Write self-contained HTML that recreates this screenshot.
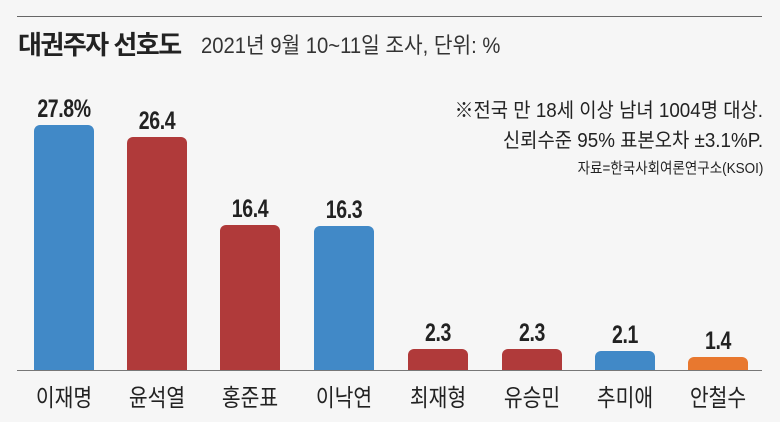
<!DOCTYPE html>
<html><head><meta charset="utf-8"><style>
body{margin:0;background:#f6f6f6;}
#c{position:relative;width:780px;height:422px;background:#f6f6f6;font-family:"Liberation Sans","Noto Sans CJK KR",sans-serif;color:#222;overflow:hidden}
.t{position:absolute;white-space:nowrap}
.bar{position:absolute;width:60px;border-radius:6px 6px 0 0}
.v{position:absolute;width:100px;text-align:center;font-weight:bold;font-size:25px;transform:scaleX(0.78);letter-spacing:-0.5px}
.n{position:absolute;width:100px;text-align:center;font-size:24px;top:378px;transform:scaleX(0.85)}
</style></head><body><div id="c">
<div style="position:absolute;left:17px;top:16px;width:745px;height:1px;background:#666"></div>
<div class="t" style="left:18px;top:25px;font-size:26px;font-weight:bold;letter-spacing:-1.5px">대권주자 선호도</div>
<div class="t" style="left:201px;top:28px;font-size:22px;color:#333;transform:scaleX(0.92);transform-origin:0 0">2021년 9월 10~11일 조사, 단위: %</div>
<div class="t" style="right:17px;top:96px;font-size:20px;text-align:right;line-height:30px;transform:scaleX(0.94);transform-origin:100% 0">※전국 만 18세 이상 남녀 1004명 대상.<br>신뢰수준 95% 표본오차 ±3.1%P.</div>
<div class="t" style="right:17px;top:157px;font-size:15px;transform:scaleX(0.9);transform-origin:100% 0">자료=한국사회여론연구소(KSOI)</div>
<div style="position:absolute;left:17px;top:370px;width:745px;height:1px;background:#777"></div>

<div class="bar" style="left:34px;top:125px;height:245px;background:#4189c7"></div>
<div class="bar" style="left:127px;top:137px;height:233px;background:#b03a3a"></div>
<div class="bar" style="left:220px;top:225px;height:145px;background:#b03a3a"></div>
<div class="bar" style="left:314px;top:226px;height:144px;background:#4189c7"></div>
<div class="bar" style="left:408px;top:349px;height:21px;background:#b03a3a"></div>
<div class="bar" style="left:502px;top:349px;height:21px;background:#b03a3a"></div>
<div class="bar" style="left:595px;top:351px;height:19px;background:#4189c7"></div>
<div class="bar" style="left:688px;top:357px;height:13px;background:#e8782f"></div>

<div class="v" style="left:14px;top:95px">27.8%</div>
<div class="v" style="left:107px;top:107px">26.4</div>
<div class="v" style="left:200px;top:195px">16.4</div>
<div class="v" style="left:294px;top:196px">16.3</div>
<div class="v" style="left:388px;top:319px">2.3</div>
<div class="v" style="left:482px;top:319px">2.3</div>
<div class="v" style="left:575px;top:321px">2.1</div>
<div class="v" style="left:668px;top:327px">1.4</div>

<div class="n" style="left:14px">이재명</div>
<div class="n" style="left:107px">윤석열</div>
<div class="n" style="left:200px">홍준표</div>
<div class="n" style="left:294px">이낙연</div>
<div class="n" style="left:388px">최재형</div>
<div class="n" style="left:482px">유승민</div>
<div class="n" style="left:575px">추미애</div>
<div class="n" style="left:668px">안철수</div>
</div></body></html>
